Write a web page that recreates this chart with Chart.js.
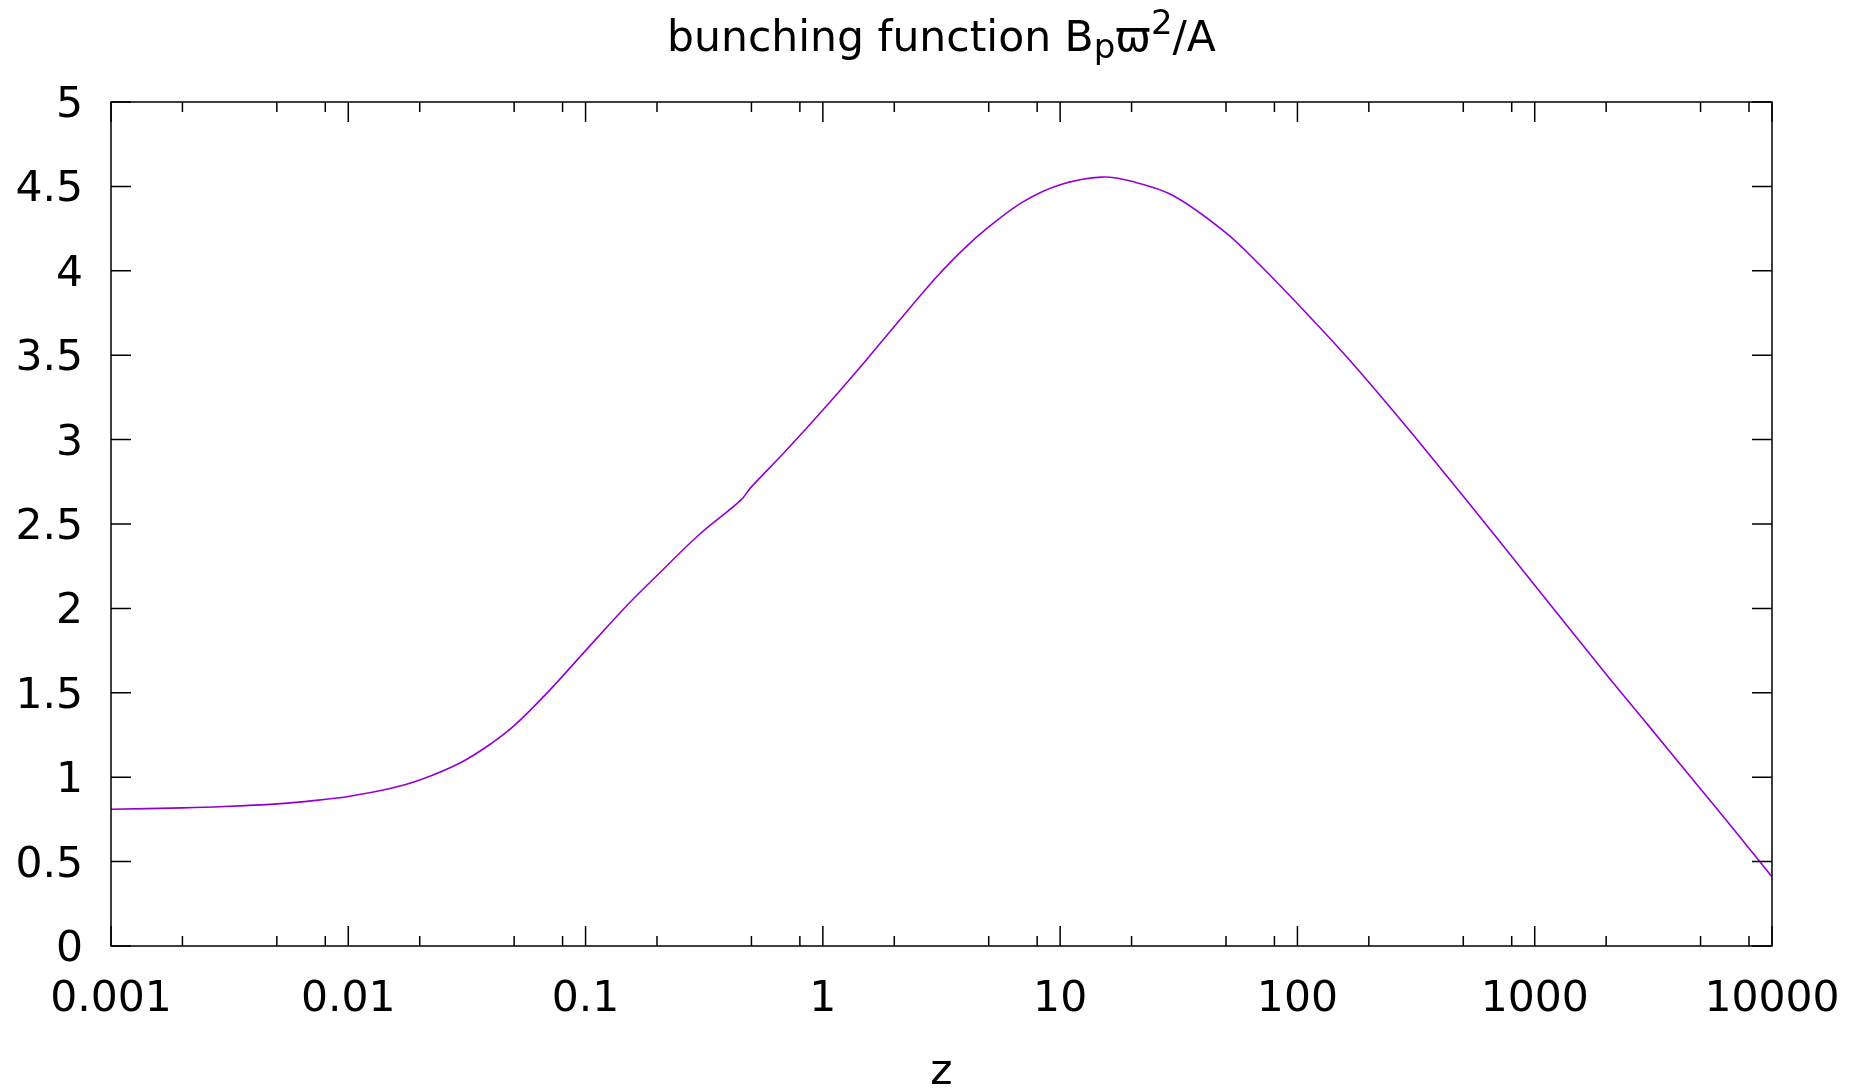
<!DOCTYPE html>
<html>
<head>
<meta charset="utf-8">
<title>bunching function</title>
<script src="https://cdn.jsdelivr.net/npm/chart.js@4.4.0/dist/chart.umd.min.js"></script>
<style>
    html, body { margin: 0; padding: 0; background: #fff; }
    #wrap { width: 1868px; height: 1090px; }
</style>
</head>
<body>
<div id="wrap"><canvas id="grafico" width="1868" height="1090"></canvas></div>
<script>
// Valores (eixo x logarítmico)
const zValores = [0.001, 0.002, 0.003, 0.005, 0.007, 0.01, 0.015, 0.02, 0.03, 0.04,
    0.05, 0.07, 0.1, 0.15, 0.2, 0.3, 0.45, 0.5, 0.7, 1,
    1.5, 2, 3, 4, 5, 7, 10, 15, 20, 30,
    50, 70, 100, 150, 200, 300, 500, 700, 1000, 2000,
    3000, 5000, 7000, 10000];
const bValores = [0.81, 0.818, 0.826, 0.842, 0.86, 0.886, 0.933, 0.983, 1.089, 1.199,
    1.305, 1.51, 1.75, 2.02, 2.195, 2.435, 2.64, 2.72, 2.935, 3.175,
    3.46, 3.67, 3.96, 4.14, 4.26, 4.41, 4.51, 4.555, 4.53, 4.445,
    4.225, 4.03, 3.805, 3.54, 3.34, 3.046, 2.664, 2.41, 2.137, 1.61,
    1.31, 0.93, 0.68, 0.41];

const xTicks = [0.001, 0.01, 0.1, 1, 10, 100, 1000, 10000];
const xTickLabels = ["0.001", "0.01", "0.1", "1", "10", "100", "1000", "10000"];
const xMinor = [2, 5, 8];
const yTicks = [0, 0.5, 1, 1.5, 2, 2.5, 3, 3.5, 4, 4.5, 5];
const yTickLabels = ["0", "0.5", "1", "1.5", "2", "2.5", "3", "3.5", "4", "4.5", "5"];

const fonte = "'DejaVu Sans'";
const tamFonte = 42.5;
const corLinha = "#9400d3";

// Título com subscrito/sobrescrito (estilo gnuplot enhanced)
const tituloPartes = [
    { t: "bunching function B", s: 1, dy: 0 },
    { t: "p", s: 0.8, dy: 7 },
    { t: "\u03d6", s: 1, dy: 0 },
    { t: "2", s: 0.8, dy: -17 },
    { t: "/A", s: 1, dy: 0 }
];

// Moldura, ticks internos, título e rótulo do eixo
const moldura = {
    id: "moldura",
    afterDatasetsDraw(chart) {
        const { ctx, chartArea: a, scales } = chart;
        const sx = scales.x, sy = scales.y;
        ctx.save();
        ctx.strokeStyle = "#000";
        ctx.lineWidth = 1.5;

        ctx.beginPath();
        xTicks.forEach((v, i) => {
            const px = sx.getPixelForValue(v);
            ctx.moveTo(px, a.bottom); ctx.lineTo(px, a.bottom - 20);
            ctx.moveTo(px, a.top); ctx.lineTo(px, a.top + 20);
            if (i < xTicks.length - 1) {
                xMinor.forEach(m => {
                    const pm = sx.getPixelForValue(v * m);
                    ctx.moveTo(pm, a.bottom); ctx.lineTo(pm, a.bottom - 10);
                    ctx.moveTo(pm, a.top); ctx.lineTo(pm, a.top + 10);
                });
            }
        });
        yTicks.forEach(v => {
            const py = sy.getPixelForValue(v);
            ctx.moveTo(a.left, py); ctx.lineTo(a.left + 20, py);
            ctx.moveTo(a.right, py); ctx.lineTo(a.right - 20, py);
        });
        ctx.stroke();
        ctx.strokeRect(a.left, a.top, a.right - a.left, a.bottom - a.top);

        // título
        ctx.fillStyle = "#000";
        ctx.textBaseline = "alphabetic";
        ctx.textAlign = "left";
        let largura = 0;
        tituloPartes.forEach(p => {
            ctx.font = `${tamFonte * p.s}px ${fonte}`;
            p.w = ctx.measureText(p.t).width;
            largura += p.w;
        });
        let x = (a.left + a.right) / 2 - largura / 2;
        tituloPartes.forEach(p => {
            ctx.font = `${tamFonte * p.s}px ${fonte}`;
            ctx.fillText(p.t, x, 51 + p.dy);
            x += p.w;
        });

        // rótulo do eixo x
        ctx.font = `${tamFonte}px ${fonte}`;
        ctx.textAlign = "center";
        ctx.fillText("z", (a.left + a.right) / 2, 1084);
        ctx.restore();
    }
};

const ctx = document.getElementById("grafico").getContext("2d");
new Chart(ctx, {
    type: "line",
    data: {
        datasets: [{
            data: zValores.map((z, i) => ({ x: z, y: bValores[i] })),
            borderColor: corLinha,
            borderWidth: 1.6,
            pointRadius: 0,
            fill: false,
            tension: 0.35
        }]
    },
    options: {
        responsive: false,
        animation: false,
        devicePixelRatio: 1,
        layout: { padding: { top: 102, right: 96, left: 0, bottom: 0 } },
        plugins: { legend: { display: false }, title: { display: false }, tooltip: { enabled: false } },
        scales: {
            x: {
                type: "logarithmic",
                min: 0.001,
                max: 10000,
                afterBuildTicks: s => { s.ticks = xTicks.map(v => ({ value: v })); },
                afterFit: s => { s.height = 144; },
                grid: { display: false, drawTicks: false },
                border: { display: false },
                ticks: {
                    autoSkip: false,
                    maxRotation: 0,
                    padding: 28,
                    color: "#000",
                    font: { family: "DejaVu Sans", size: tamFonte },
                    callback: v => xTickLabels[xTicks.indexOf(v)] ?? ""
                }
            },
            y: {
                type: "linear",
                min: 0,
                max: 5,
                afterBuildTicks: s => { s.ticks = yTicks.map(v => ({ value: v })); },
                afterFit: s => { s.width = 111; },
                grid: { display: false, drawTicks: false },
                border: { display: false },
                ticks: {
                    padding: 28,
                    labelOffset: 4,
                    color: "#000",
                    font: { family: "DejaVu Sans", size: tamFonte },
                    callback: v => yTickLabels[yTicks.indexOf(v)] ?? ""
                }
            }
        }
    },
    plugins: [moldura]
});
</script>
</body>
</html>
